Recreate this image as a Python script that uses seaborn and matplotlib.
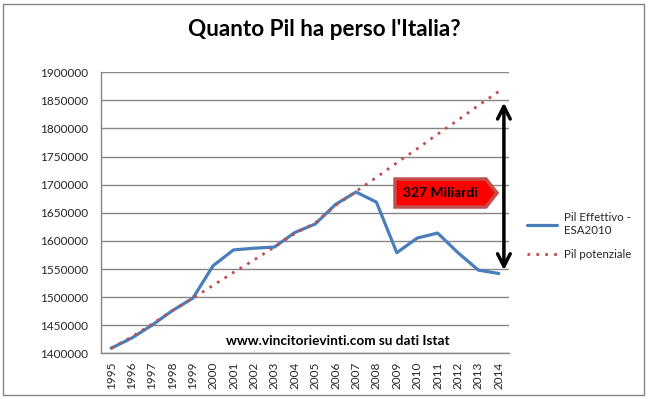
import matplotlib
matplotlib.use("Agg")
import matplotlib.pyplot as plt
import seaborn as sns
import pandas as pd
from matplotlib.patches import Polygon, Rectangle

years = list(range(1995, 2015))
pil_effettivo = [1409000, 1427000, 1450000, 1476000, 1498000, 1556000, 1584000, 1587000,
                 1589000, 1615000, 1630000, 1665000, 1687000, 1669000, 1579000, 1605000,
                 1614000, 1579000, 1548000, 1542000]
pil_potenziale = [1409000, 1429000, 1452000, 1476000, 1498000, 1521000, 1544000, 1566000,
                  1589000, 1613000, 1632000, 1663000, 1688000, 1713000, 1739000, 1764000,
                  1790000, 1815000, 1841000, 1866000]
y_ticks = [1400000, 1450000, 1500000, 1550000, 1600000, 1650000, 1700000, 1750000,
           1800000, 1850000, 1900000]
title = "Quanto Pil ha perso l'Italia?"
label_eff = "Pil Effettivo -\nESA2010"
label_pot = "Pil potenziale"
gap_label = "327 Miliardi"
source = "www.vincitorievinti.com su dati Istat"
arrow_top = 1846000
arrow_bottom = 1548000

sns.set_theme(style="white")
plt.rcParams['font.family'] = ['Lato', 'DejaVu Sans']

df = pd.DataFrame({"Anno": years, "eff": pil_effettivo, "pot": pil_potenziale})

fig = plt.figure(figsize=(6.49, 3.99), dpi=100)
ax = fig.add_axes([101/649, 1-353.3/399, 408/649, 281/399])

grid_c = "#868686"
for v in y_ticks:
    ax.axhline(v, color=grid_c, lw=1.0, zorder=0)

sns.lineplot(data=df, x="Anno", y="eff", ax=ax, color="#4A7EBB", lw=2.3,
             label=label_eff, zorder=3)
sns.lineplot(data=df, x="Anno", y="pot", ax=ax, color="#C0504D", lw=2.0,
             linestyle=(0, (1, 2.2)), label=label_pot, zorder=4)

ax.set_xlim(1994.5, 2014.5)
ax.set_ylim(1400000, 1900000)
ax.set_yticks(y_ticks)
ax.set_yticklabels([str(v) for v in y_ticks], fontsize=8.5)
ax.set_xticks(years)
ax.set_xticklabels([str(y) for y in years], rotation=90, fontsize=8.5)
ax.tick_params(axis='y', length=0, pad=9)
ax.tick_params(axis='x', length=0, pad=6)
ax.set_xlabel("")
ax.set_ylabel("")
for s in ["top", "right"]:
    ax.spines[s].set_visible(False)
for s in ["left", "bottom"]:
    ax.spines[s].set_color(grid_c)
    ax.spines[s].set_linewidth(1.0)

# gap arrow
ax.annotate("", xy=(2014.25, arrow_bottom), xytext=(2014.25, arrow_top),
            arrowprops=dict(arrowstyle="<->,head_length=0.75,head_width=0.38",
                            color="black", lw=2.5, shrinkA=0, shrinkB=0), zorder=6)

# red label box
poly = Polygon([(0.7206, 0.6203), (0.9436, 0.6203), (0.9706, 0.5705),
                (0.9436, 0.5206), (0.7206, 0.5206)], closed=True,
               transform=ax.transAxes, facecolor="#FF0000", edgecolor="#C0504D",
               lw=2.5, zorder=7)
ax.add_patch(poly)
ax.text(0.831, 0.5705, gap_label, transform=ax.transAxes, ha="center", va="center",
        fontsize=10, fontweight="bold", color="black", zorder=8)

ax.text(0.581, 0.044, source, transform=ax.transAxes, ha="center", va="center",
        fontsize=9.8, fontweight="bold", color="black", zorder=8)

fig.text(324/649, 1-30/399, title, ha="center", va="center", fontsize=16.2,
         fontweight="bold", color="black")

ax.get_legend().remove()
handles, labels = ax.get_legend_handles_labels()
fig.legend(handles, labels, loc="center left", bbox_to_anchor=(517/649, 1-236/399),
           frameon=False, fontsize=8.3, handlelength=2.6, handletextpad=0.6,
           labelspacing=1.1)

fig.patches.append(Rectangle((3/649, 4/399), 641/649, 391/399, transform=fig.transFigure,
                             fill=False, edgecolor=grid_c, lw=1.0))

fig.savefig("out.png", dpi=100)
